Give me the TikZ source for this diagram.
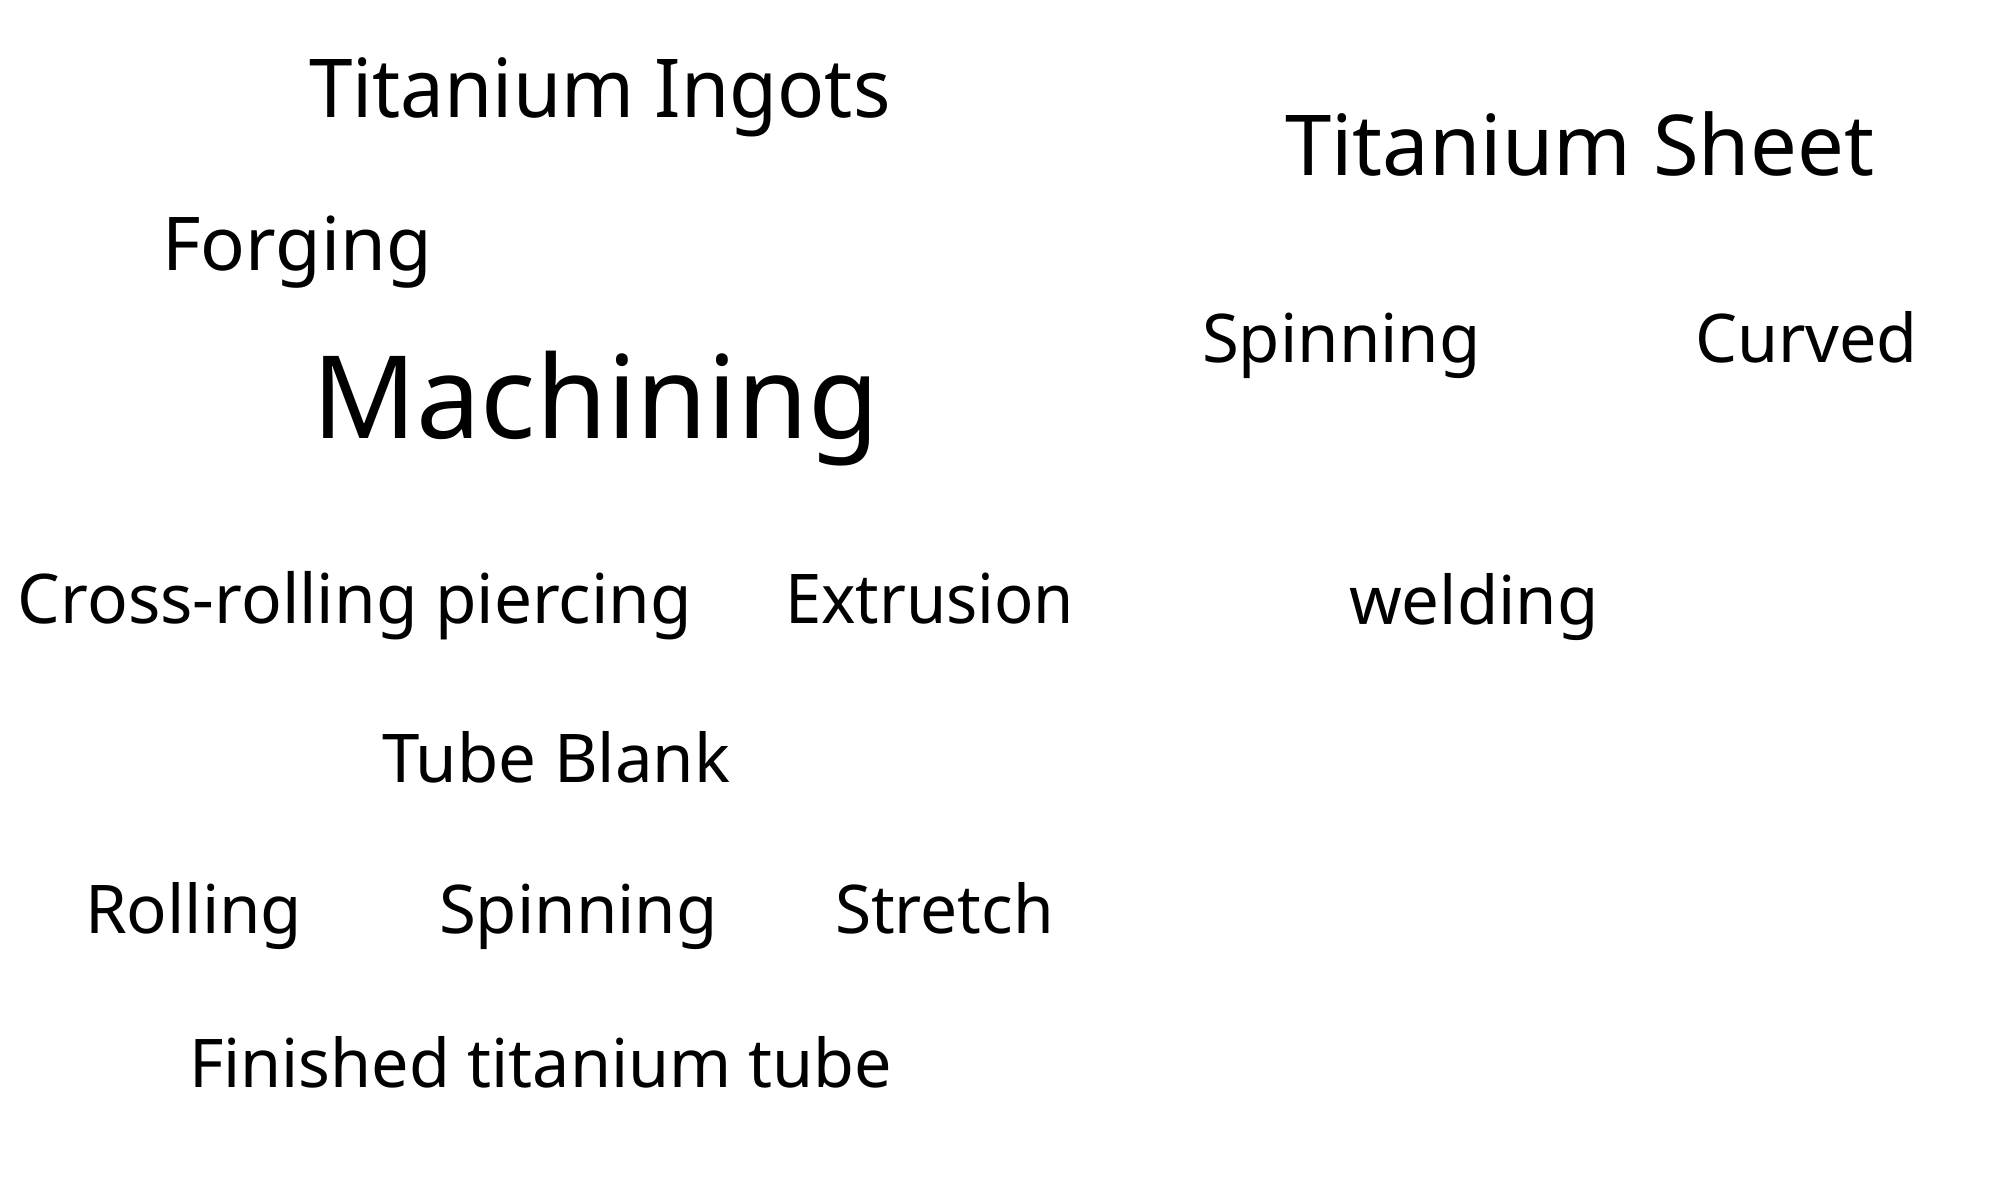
\documentclass[tikz,border=0pt]{standalone}
\usepackage{fontspec}
\setmainfont{Noto Sans}
\usepackage{tikz}
\tikzset{lbl/.style={anchor=base west,inner sep=0pt,outer sep=0pt,text=black},
         narrow/.style={xscale=#1,transform shape}}
\newcommand{\fsz}[1]{\fontsize{#1}{#1}\selectfont}
\begin{document}
\begin{tikzpicture}[line cap=round,line join=round,x=0.01cm,y=0.01cm]
                \useasboundingbox (0,0) rectangle (2000,-1200);
                % ingot route
                \node[lbl,narrow=0.962,font=\fsz{23.1pt}] (ingots) at (309,-117) {Titanium Ingots};
                \node[lbl,font=\fsz{21.1pt}] (forging) at (162,-270) {Forging};
                \node[lbl,font=\fsz{32.7pt}] (machining) at (312,-438) {Machining};
                % sheet route
                \node[lbl,narrow=0.99,font=\fsz{23.9pt}] (sheet) at (1285,-175) {Titanium Sheet};
                \node[lbl,font=\fsz{19.1pt}] (spinsheet) at (1202,-362) {Spinning};
                \node[lbl,narrow=0.99,font=\fsz{19.1pt}] (curved) at (1695,-362) {Curved};
                \node[lbl,font=\fsz{19.1pt}] (welding) at (1349,-624) {welding};
                % tube route
                \node[lbl,narrow=0.985,font=\fsz{19.5pt}] (piercing) at (18,-623) {Cross-rolling piercing};
                \node[lbl,narrow=0.95,font=\fsz{19.5pt}] (extrusion) at (785,-623) {Extrusion};
                \node[lbl,font=\fsz{19.1pt}] (blank) at (382,-782) {Tube Blank};
                \node[lbl,font=\fsz{19.1pt}] (rolling) at (85,-933) {Rolling};
                \node[lbl,font=\fsz{19.1pt}] (spintube) at (439,-933) {Spinning};
                \node[lbl,narrow=0.98,font=\fsz{19.1pt}] (stretch) at (835,-933) {Stretch};
                \node[lbl,narrow=0.99,font=\fsz{19.1pt}] (finished) at (189,-1087) {Finished titanium tube};
\end{tikzpicture}
\end{document}
